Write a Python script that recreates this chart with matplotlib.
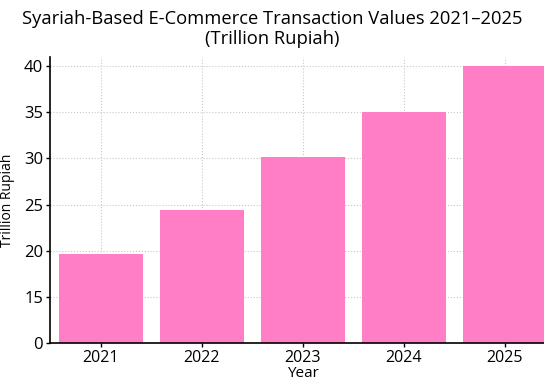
import numpy as np
import matplotlib.pyplot as plt

# Nilai transaksi e-commerce berbasis syariah (triliun rupiah)
years = ['2021', '2022', '2023', '2024', '2025']
values = [19.6, 24.4, 30.2, 35.0, 40.0]

# Label sumbu y
y_ticks = [10, 15, 20, 25, 30, 35, 40]
y_tick_labels = ['0', '15', '20', '25', '30', '35', '40']

plt.rcParams['font.family'] = ['Open Sans', 'DejaVu Sans']

fig = plt.figure(figsize=(5.44, 3.83), dpi=100)
ax = fig.add_axes([50 / 544, 40 / 383, 505 / 544, 286 / 383])

x = np.arange(len(years))
ax.bar(x, values, width=0.83, color='#ff7ec5', zorder=2)

ax.set_xlim(-0.505, 4.5)
ax.set_ylim(10, 41)
ax.set_xticks(x)
ax.set_xticklabels(years, fontsize=11.5)
ax.set_yticks(y_ticks)
ax.set_yticklabels(y_tick_labels, fontsize=12)

ax.grid(True, linestyle=':', color='#c8c8c8', linewidth=0.8, zorder=0)
ax.spines['top'].set_visible(False)
ax.spines['right'].set_visible(False)
ax.spines['left'].set_linewidth(1.2)
ax.spines['bottom'].set_linewidth(1.2)
ax.tick_params(axis='both', length=3, width=1, pad=2)

ax.set_xlabel('Year', fontsize=11, labelpad=0)
ax.set_ylabel('Trillion Rupiah', fontsize=10, labelpad=6)

fig.text(272 / 544, 1 - 29 / 383,
         'Syariah-Based E-Commerce Transaction Values 2021–2025\n(Trillion Rupiah)',
         ha='center', va='center', fontsize=13.2, linespacing=1.15)

fig.savefig('out.png', dpi=100)
